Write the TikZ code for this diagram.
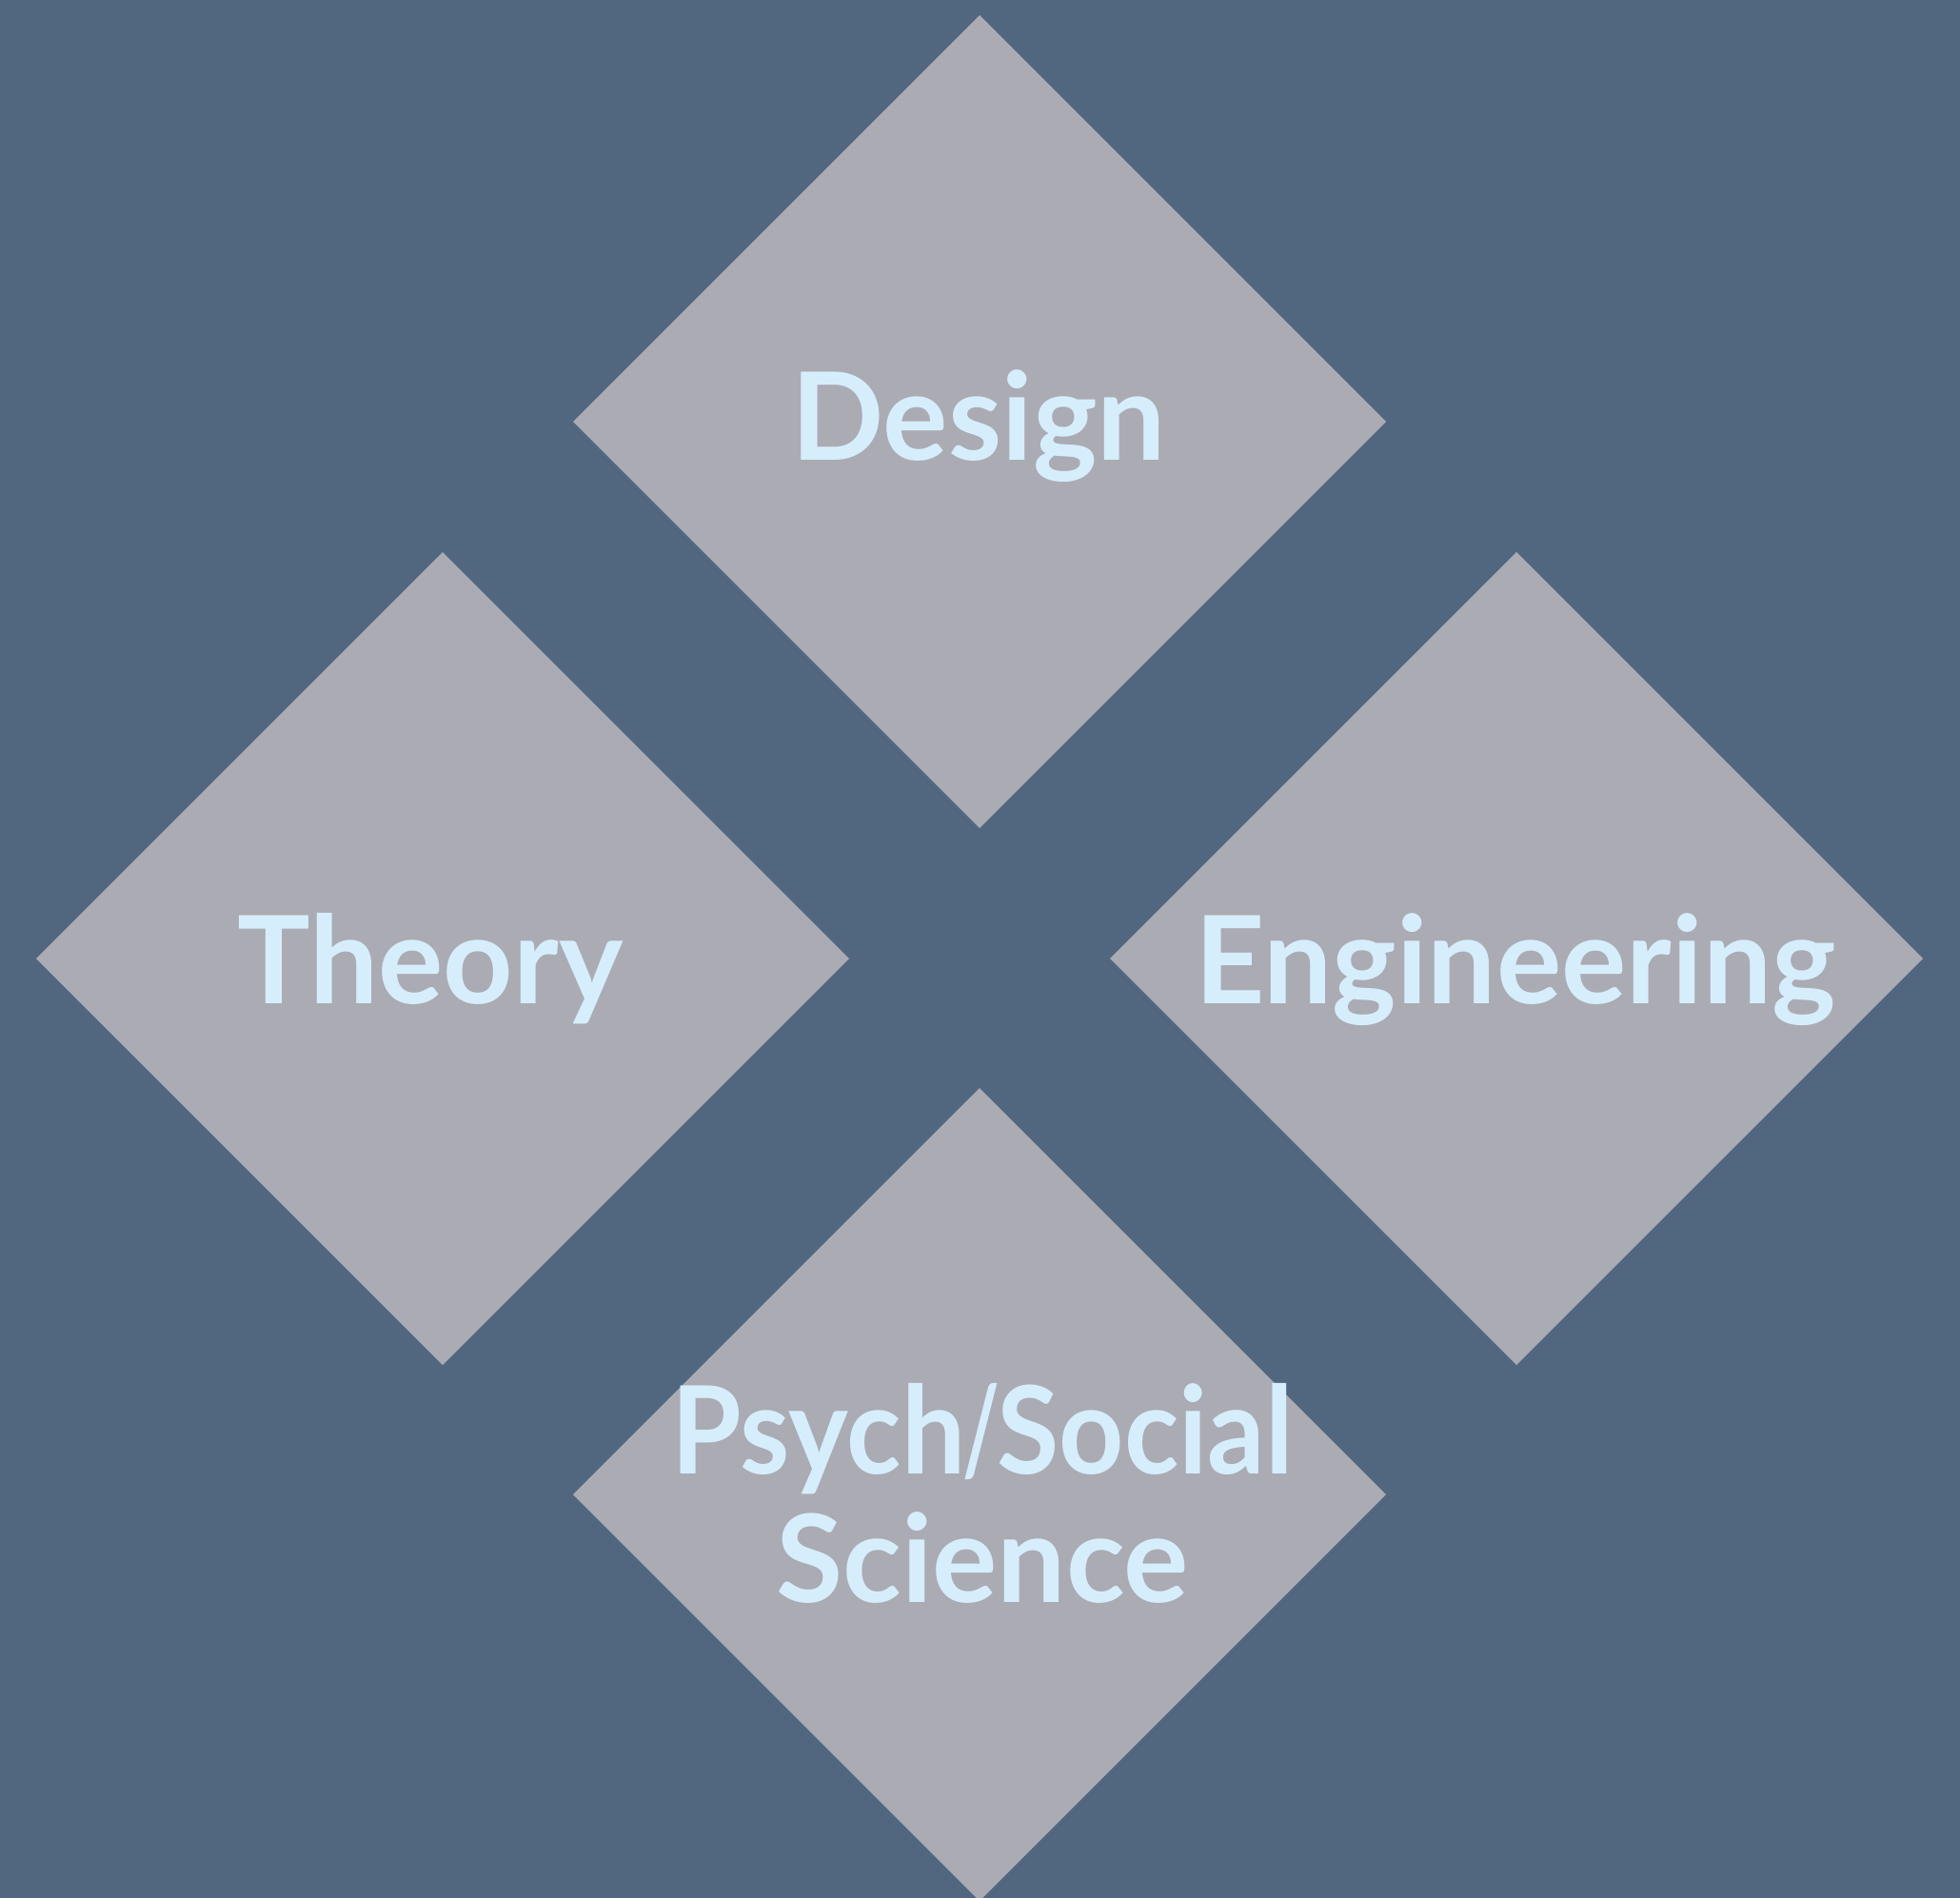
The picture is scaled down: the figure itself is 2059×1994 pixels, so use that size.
\documentclass[tikz,border=0pt]{standalone}
\usepackage{fontspec}
\setmainfont{Lato}
\usetikzlibrary{shapes.geometric}
\definecolor{bgcol}{RGB}{81,103,128}
\definecolor{diacol}{RGB}{171,171,180}
\definecolor{txtcol}{RGB}{214,238,252}
\begin{document}
\begin{tikzpicture}[x=1pt,y=-1pt,
  dia/.style={diamond,aspect=1,fill=diacol,draw=none,inner sep=0pt,outer sep=0pt,minimum width=854pt,minimum height=854pt},
  lbl/.style={anchor=base,inner sep=0pt,text=txtcol,font=\fontsize{128}{150}\selectfont\bfseries}]
\fill[bgcol] (0,0) rectangle (2059,1994);
\useasboundingbox (0,0) rectangle (2059,1994);
\node[dia] (design) at (1029,443) {};
\node[dia] (theory) at (465,1007) {};
\node[dia] (engineering) at (1593,1007) {};
\node[dia] (psych) at (1029,1570) {};
\node[lbl] (tdesign) at (1028,483) {Design};
\node[lbl] (ttheory) at (452,1054) {Theory};
\node[lbl] (tengineering) at (1592,1054) {Engineering};
\node[lbl] (tpsych1) at (1032,1548) {\scalebox{0.93}[1]{Psych\kern-3pt\scalebox{0.7}[1]{/}\kern-3pt Social}};
\node[lbl] (tpsych2) at (1032,1683) {Science};
\end{tikzpicture}
\end{document}
